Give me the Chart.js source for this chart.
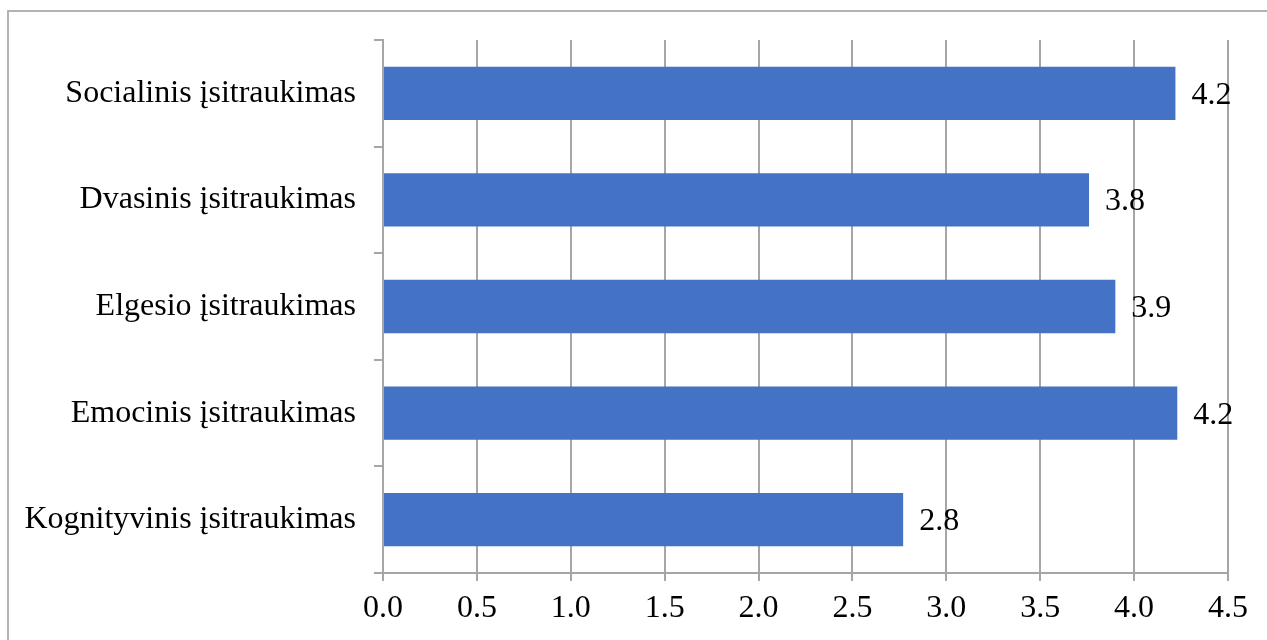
<!DOCTYPE html>
<html>
<head>
<meta charset="utf-8">
<script src="https://cdn.jsdelivr.net/npm/chart.js@4.4.1/dist/chart.umd.min.js"></script>
<style>
  html, body { margin: 0; padding: 0; background: #fff; }
  #wrap { position: relative; width: 1267px; height: 640px; overflow: hidden; }
  #frame { position: absolute; left: 7px; top: 10px; width: 1300px; height: 700px; border: 2px solid #b3b3b3; box-sizing: border-box; }
  #myChart { position: absolute; left: 0; top: 0; }
</style>
</head>
<body>
<div id="wrap">
  <div id="frame"></div>
  <canvas id="myChart" width="1267" height="640"></canvas>
</div>
<script>
// data
const categories = [
    'Socialinis įsitraukimas',
    'Dvasinis įsitraukimas',
    'Elgesio įsitraukimas',
    'Emocinis įsitraukimas',
    'Kognityvinis įsitraukimas'
];
const values = [4.22, 3.76, 3.90, 4.23, 2.77];
const labels = ['4.2', '3.8', '3.9', '4.2', '2.8'];

const fontFamily = '"Liberation Serif", "Times New Roman", serif';
const fontSize = 32;
const gridColor = '#a6a6a6';

// value labels at bar ends
const valueLabels = {
    id: 'valueLabels',
    afterDatasetsDraw(chart) {
        const ctx = chart.ctx;
        const meta = chart.getDatasetMeta(0);
        ctx.save();
        ctx.font = fontSize + 'px ' + fontFamily;
        ctx.fillStyle = '#000';
        ctx.textAlign = 'left';
        ctx.textBaseline = 'middle';
        meta.data.forEach((bar, i) => {
            ctx.fillText(labels[i], bar.x + 16, bar.y + 2);
        });
        ctx.restore();
    }
};

// config
const config = {
    type: 'bar',
    data: {
        labels: categories,
        datasets: [{
            data: values,
            backgroundColor: '#4472c4',
            borderWidth: 0,
            categoryPercentage: 1,
            barPercentage: 0.5
        }]
    },
    options: {
        indexAxis: 'y',
        responsive: false,
        animation: false,
        layout: {
            padding: { top: 40, right: 39, left: 0, bottom: 0 }
        },
        plugins: {
            legend: { display: false },
            tooltip: { enabled: false }
        },
        scales: {
            x: {
                min: 0,
                max: 4.5,
                ticks: {
                    stepSize: 0.5,
                    color: '#000',
                    font: { family: fontFamily, size: fontSize },
                    padding: 8,
                    callback: v => Number(v).toFixed(1)
                },
                grid: {
                    color: gridColor,
                    lineWidth: 2,
                    tickLength: 8
                },
                border: { display: true, color: gridColor, width: 2 },
                afterFit(scale) { scale.height = 67; }
            },
            y: {
                ticks: {
                    color: '#000',
                    font: { family: fontFamily, size: fontSize },
                    padding: 18
                },
                grid: {
                    offset: true,
                    drawOnChartArea: false,
                    color: gridColor,
                    lineWidth: 2,
                    tickLength: 9
                },
                border: { display: true, color: gridColor, width: 2 },
                afterFit(scale) { scale.width = 383; }
            }
        }
    },
    plugins: [valueLabels]
};

// render init block
const myChart = new Chart(
    document.getElementById('myChart'),
    config
);
</script>
</body>
</html>
